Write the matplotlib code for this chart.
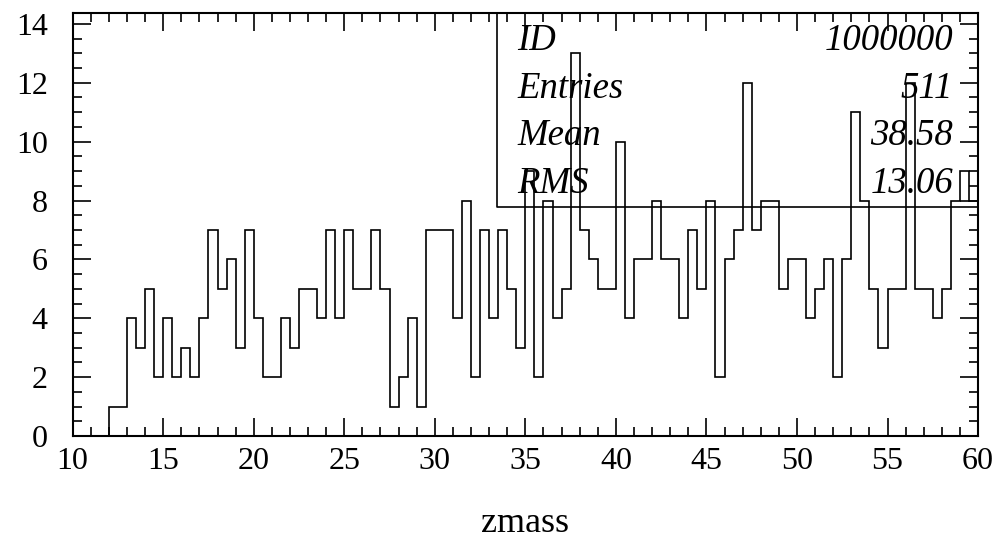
import matplotlib
matplotlib.use("Agg")
import matplotlib.pyplot as plt
import numpy as np
from matplotlib.ticker import MultipleLocator

# histogram of zmass: 100 bins of width 0.5 from 10 to 60
x_lo = 10.0
x_hi = 60.0
counts = [
    0, 0, 0, 0, 1, 1, 4, 3, 5, 2,
    4, 2, 3, 2, 4, 7, 5, 6, 3, 7,
    4, 2, 2, 4, 3, 5, 5, 4, 7, 4,
    7, 5, 5, 7, 5, 1, 2, 4, 1, 7,
    7, 7, 4, 8, 2, 7, 4, 7, 5, 3,
    9, 2, 8, 4, 5, 13, 7, 6, 5, 5,
    10, 4, 6, 6, 8, 6, 6, 4, 7, 5,
    8, 2, 6, 7, 12, 7, 8, 8, 5, 6,
    6, 4, 5, 6, 2, 6, 11, 8, 5, 3,
    5, 5, 12, 5, 5, 4, 5, 8, 9, 8,
]
stat_names = ["ID", "Entries", "Mean", "RMS"]
stat_values = ["1000000", "511", "38.58", "13.06"]
x_label = "zmass"


def main() -> None:
    plt.rcParams["font.family"] = ["Liberation Serif", "DejaVu Serif"]
    edges = np.linspace(x_lo, x_hi, len(counts) + 1)

    fig = plt.figure(figsize=(9.98, 5.38), dpi=100)
    ax = fig.add_axes([0.0728, 0.1896, 0.9072, 0.7868])

    ax.stairs(counts, edges, color="black", linewidth=1.2)

    ax.set_xlim(x_lo, x_hi)
    ax.set_ylim(0, 14.38)
    ax.xaxis.set_major_locator(MultipleLocator(5))
    ax.xaxis.set_minor_locator(MultipleLocator(1))
    ax.yaxis.set_major_locator(MultipleLocator(2))
    ax.yaxis.set_minor_locator(MultipleLocator(0.5))
    ax.tick_params(which="both", direction="in", top=True, right=True,
                   width=1.2, color="black")
    ax.tick_params(which="major", length=13)
    ax.tick_params(which="minor", length=6.5)
    ax.tick_params(axis="x", which="major", labelsize=23, pad=8)
    ax.tick_params(axis="y", which="major", labelsize=23, pad=18)
    for spine in ax.spines.values():
        spine.set_linewidth(1.5)

    ax.set_xlabel(x_label, fontsize=26, labelpad=22)

    # stats box in the upper right corner
    ax.plot([0.4687, 0.4687, 1.0], [1.0, 0.541, 0.541], color="black",
            linewidth=1.2, transform=ax.transAxes, clip_on=False)
    baselines = [0.912, 0.798, 0.687, 0.574]
    for name, value, yb in zip(stat_names, stat_values, baselines):
        ax.text(0.491, yb, name, transform=ax.transAxes, fontsize=26.5,
                style="italic", ha="left", va="baseline")
        ax.text(0.9724, yb, value, transform=ax.transAxes, fontsize=26.5,
                style="italic", ha="right", va="baseline")

    fig.savefig("out.png", dpi=100)
    plt.close(fig)


if __name__ == "__main__":
    main()
